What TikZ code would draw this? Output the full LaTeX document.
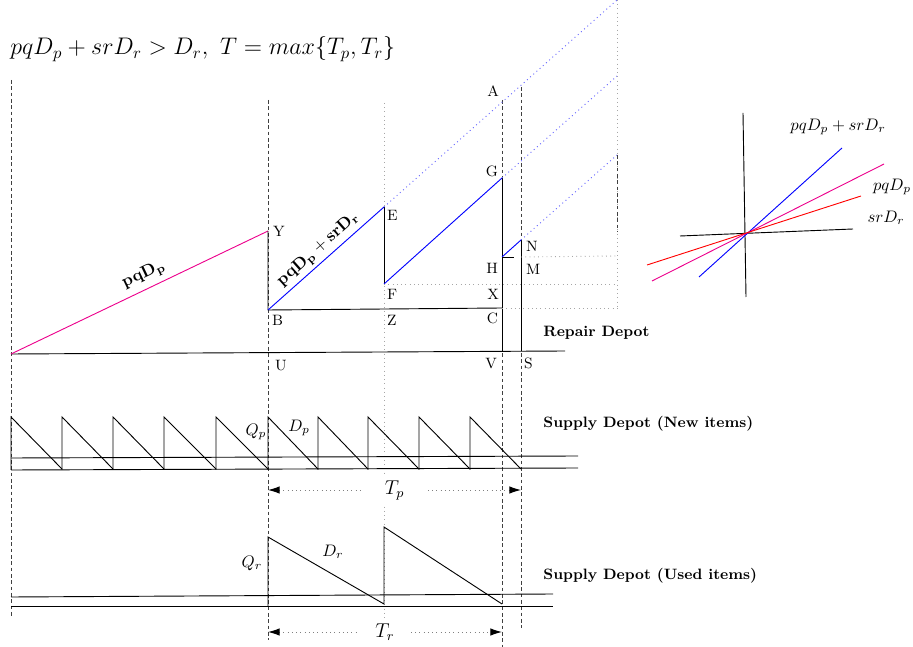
\documentclass[tikz,border=0pt]{standalone}
\usepackage{amsmath}
\usepackage{amssymb}
\usetikzlibrary{arrows.meta,positioning}

\begin{document}
\begin{tikzpicture}[x=0.6pt,y=-0.6pt,line width=0.55pt,
  guide/.style={black!75,dash pattern=on 2.2pt off 1.6pt},
  aux/.style={gray!70,dotted},
  ext/.style={blue!60,dotted},
  lbl/.style={font=\small,inner sep=1pt},
  depot/.style={font=\small\bfseries,anchor=west,inner sep=0pt},
  span/.style={gray,dotted,{Latex[length=7pt,width=4.5pt,color=black]}-{Latex[length=7pt,width=4.5pt,color=black]}}]
\useasboundingbox (0,0) rectangle (913,647);
\node[anchor=base west,inner sep=0pt,font=\Large] (title) at (10,55) {$pqD_p + srD_r > D_r,\ T = max\{T_p, T_r\}$};
% time guides
\draw[guide] (11,80) -- (11,617);
\draw[guide] (268,100) -- (268,640);
\draw[aux] (384,103) -- (384,640);
\draw[guide] (502,100) -- (502,647);
\draw[guide] (521,87) -- (521,628);
% repair depot
\coordinate (O) at (11,354);
\coordinate (R) at (565,351);
\coordinate (Y) at (268,231);
\coordinate (U) at (268,352);
\coordinate (B) at (268,310);
\coordinate (E) at (384,207);
\coordinate (F) at (384,284);
\coordinate (Z) at (384,309);
\coordinate (A) at (502,100);
\coordinate (G) at (502,178);
\coordinate (H) at (502,257);
\coordinate (X) at (502,284);
\coordinate (C) at (502,308);
\coordinate (V) at (502,351);
\coordinate (N) at (521,240);
\coordinate (M) at (521,257);
\coordinate (S) at (521,351);
\coordinate (e1) at (617,0);
\coordinate (e2) at (617,76);
\coordinate (e3) at (617,155);
\coordinate (e4) at (617,232);
\coordinate (e5) at (617,310);
\draw (O) -- (R);
\draw[magenta] (O) -- node[sloped,above,pos=0.54,text=black] (lpq) {$\mathbf{pqD_p}$} (Y);
\draw (Y) -- (B) -- (C);
\draw[blue] (B) -- node[sloped,above,inner sep=2pt,text=black] (lsum) {$\mathbf{pqD_p + srD_r}$} (E);
\draw (E) -- (F);
\draw[blue] (F) -- (G);
\draw (G) -- (V);
\draw[blue] (H) -- (N);
\draw (H) -- (514,257);
\draw (N) -- (S);
\draw[ext] (E) -- (e1);
\draw[ext] (G) -- (e2);
\draw[ext] (N) -- (e3);
\draw[aux] (M) -- (617,256);
\draw[aux] (F) -- (617,284);
\draw[aux] (C) -- (617,308);
\draw[aux] (e1) -- (e5);
\draw[guide] (e3) -- (e4);
\node[lbl,anchor=west] (lY) at (271,231) {Y};
\node[lbl,anchor=north west] (lB) at (270,313) {B};
\node[lbl,anchor=north west] (lZ) at (385,313) {Z};
\node[lbl,anchor=north east] (lC) at (500,311) {C};
\node[lbl,anchor=north west] (lE) at (385,208) {E};
\node[lbl,anchor=north west] (lF) at (385,287) {F};
\node[lbl,anchor=south east] (lA) at (501,99) {A};
\node[lbl,anchor=south east] (lG) at (500,179) {G};
\node[lbl,anchor=north east] (lH) at (500,261) {H};
\node[lbl,anchor=north east] (lX) at (501,287) {X};
\node[lbl,anchor=north west] (lN) at (524,239) {N};
\node[lbl,anchor=north west] (lM) at (524,262) {M};
\node[lbl,anchor=north east] (lV) at (499,356) {V};
\node[lbl,anchor=north west] (lS) at (522,356) {S};
\node[lbl,anchor=north west] (lU) at (273,358) {U};
\node[depot] (repair) at (543,333) {Repair Depot};
% supply depot, new items
\draw (11,458) -- (578,456);
\draw (11,470) -- (578,468);
\foreach \a/\b in {11/62,62/113,113/164,164/216,216/268,268/318,318/368,368/419,419/470,470/521}
  {\draw (\a,470) -- (\a,417) -- (\b,469);}
\node (Qp) at (256,432) {$Q_p$};
\node (Dp) at (299,428) {$D_p$};
\draw[span] (268,490) -- node[pos=0.5,fill=white,inner xsep=14pt,font=\large,text=black] (Tp) {$T_p$} (521,490);
\node[depot] (newsup) at (543,424) {Supply Depot (New items)};
% supply depot, used items
\draw (11,597) -- (553,594);
\draw (11,606) -- (553,606);
\draw (268,606) -- (268,537) -- (384,604) -- (384,527) -- (502,604);
\node (Qr) at (252,563) {$Q_r$};
\node (Dr) at (333,552) {$D_r$};
\draw[span] (268,632) -- node[pos=0.5,fill=white,inner xsep=10pt,font=\large,text=black] (Tr) {$T_r$} (502,632);
\node[depot] (usedsup) at (543,576) {Supply Depot (Used items)};
% slopes compared
\draw (743,113) -- (746,297);
\draw (680,236) -- (853,229);
\draw[blue] (699,277) -- (842,148);
\draw[magenta] (652,281) -- (884,164);
\draw[red] (647,265) -- (861,196);
\node (ksum) at (838,127) {$pqD_p + srD_r$};
\node (kpq) at (892,187) {$pqD_p$};
\node (ksr) at (886,218) {$srD_r$};
\end{tikzpicture}
\end{document}
